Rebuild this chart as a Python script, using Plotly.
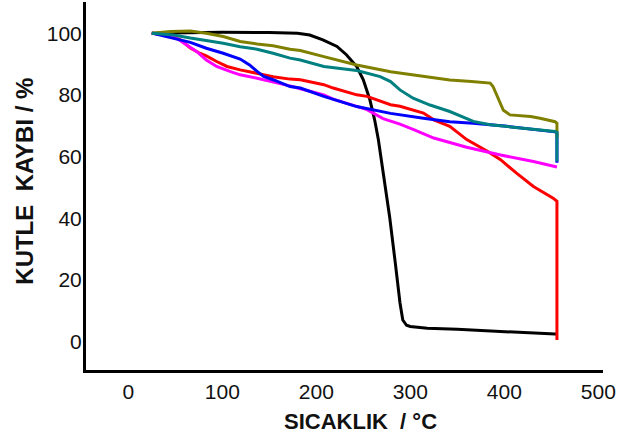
import plotly.graph_objects as go

# Black curve
t_black = [25, 60, 100, 150, 180, 193, 207, 222, 232, 243, 250, 257, 262, 266, 271, 278, 284, 289, 292, 296, 300, 305, 318, 350, 385, 410, 454, 456]
m_black = [100, 100.2, 100.3, 100.2, 100, 99.4, 97.8, 95.7, 93, 89.2, 84.9, 78.4, 72, 65.5, 55.7, 40.5, 25.6, 12.6, 7, 5.3, 4.9, 4.7, 4.3, 4.0, 3.6, 3.1, 2.5, 2.5]

# Red curve
t_red = [25, 41, 55, 66, 76, 83, 94, 105, 119, 137, 154, 172, 183, 208, 218, 243, 254, 279, 289, 314, 325, 342, 360, 382, 396, 413, 431, 452, 456, 456]
m_red = [100, 99.4, 97.9, 95.2, 93.5, 92.6, 90.8, 89.2, 88.1, 87, 85.9, 85.1, 84.9, 83.3, 82.2, 80, 79.5, 76.8, 76.3, 74.1, 71.9, 69.8, 65.5, 61.7, 59, 54.6, 50.3, 46.5, 45.5, 0.5]

# Magenta curve
t_mag = [25, 41, 51, 62, 73, 83, 94, 108, 119, 137, 154, 172, 183, 208, 218, 243, 254, 271, 289, 303, 325, 360, 396, 431, 456]
m_mag = [100, 99.4, 98.4, 96.2, 94, 91.3, 89.2, 87.6, 86.5, 85.4, 84.3, 82.9, 82, 80, 78.6, 76.4, 75.2, 72.3, 70.5, 68.8, 66, 63, 60.5, 58.4, 56.6]

# Blue curve
t_blue = [25, 48, 66, 83, 101, 119, 129, 137, 144, 154, 172, 183, 208, 243, 279, 314, 342, 367, 403, 454, 456, 456]
m_blue = [100, 98.4, 97, 95.1, 93.5, 91.6, 89.7, 87.6, 86, 84.9, 82.7, 82.2, 79.5, 76.2, 74, 72.4, 71.3, 70.8, 69.8, 68, 67.7, 58]

# Teal curve
t_teal = [25, 48, 66, 83, 101, 119, 137, 154, 172, 183, 208, 243, 268, 279, 289, 303, 321, 342, 350, 367, 385, 420, 454, 456, 456]
m_teal = [100, 99.4, 98.4, 97.6, 96.7, 95.6, 94.8, 93.5, 91.9, 91.3, 89.2, 87.9, 85.9, 84.3, 81.6, 78.9, 76.7, 74.6, 73.5, 71.4, 70.3, 69.2, 68.1, 67.8, 58.4]

# Olive curve
t_olive = [25, 45, 66, 83, 101, 119, 137, 154, 172, 183, 208, 243, 279, 314, 342, 365, 385, 388, 394, 399, 406, 415, 428, 438, 454, 456, 456]
m_olive = [100, 100.5, 100.7, 100, 98.9, 97.3, 96.5, 95.9, 94.8, 94.4, 92.4, 89.7, 87.5, 85.9, 84.8, 84.3, 83.8, 82.7, 78.4, 75, 73.5, 73.2, 73, 72.4, 71.3, 70.8, 66]

x_ticks = [0, 100, 200, 300, 400, 500]
y_ticks = [0, 20, 40, 60, 80, 100]

series = [
    (t_black, m_black, "#000000"),
    (t_red, m_red, "#ff0000"),
    (t_mag, m_mag, "#ff00ff"),
    (t_blue, m_blue, "#0000ff"),
    (t_olive, m_olive, "#808000"),
    (t_teal, m_teal, "#008080"),
]

fig = go.Figure()
for t, m, c in series:
    fig.add_trace(go.Scatter(x=t, y=m, mode="lines", line=dict(color=c, width=3), showlegend=False))

font = "Liberation Sans, Arial, sans-serif"
L, R, T, B = 86, 14, 2, 68
fig.update_layout(
    width=617, height=438,
    margin=dict(l=L, r=R, t=T, b=B),
    plot_bgcolor="white", paper_bgcolor="white",
    font=dict(family=font, size=21, color="#111111"),
    xaxis=dict(range=[-45, 505], tickvals=x_ticks, showgrid=False, zeroline=False,
               showline=True, linecolor="black", linewidth=3, ticks="",
               ticklabelstandoff=1),
    yaxis=dict(range=[-9.2, 110.1], tickvals=y_ticks, showgrid=False, zeroline=False,
               showline=True, linecolor="black", linewidth=3, ticks="",
               ticklabelstandoff=-3),
)

pw = 617 - L - R
ph = 438 - T - B
def px2paper(px, py):
    return (px - L) / pw, 1 - (py - T) / ph

ax, ay = px2paper(360, 421.5)
bx, by = px2paper(25, 181.7)
fig.update_layout(annotations=[
    dict(text="<b>SICAKLIK  / °C</b>", x=ax, y=ay, xref="paper", yref="paper",
         xanchor="center", yanchor="middle", showarrow=False,
         font=dict(size=22, color="#111111")),
    dict(text="<b>KUTLE  KAYBI / %</b>", x=bx, y=by, xref="paper", yref="paper",
         xanchor="center", yanchor="middle", textangle=-90, showarrow=False,
         font=dict(size=24, color="#111111")),
])

fig.write_html("out.html")
